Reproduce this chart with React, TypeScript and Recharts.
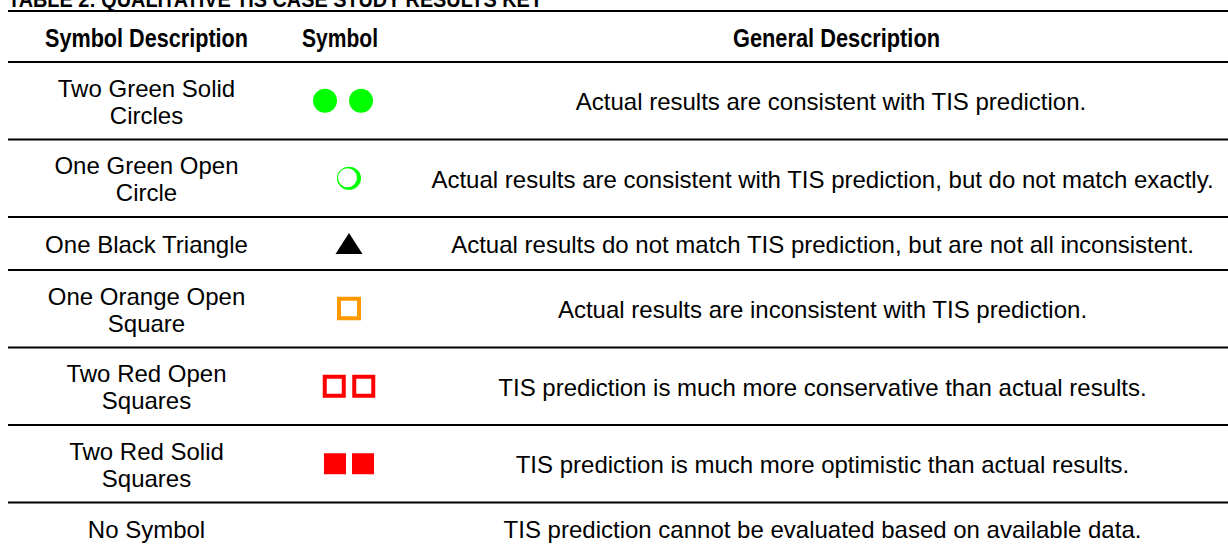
import React from "react";
import { ScatterChart, Scatter, XAxis, YAxis, ReferenceLine } from "recharts";

// ---- data ----
const TITLE = "TABLE 2: QUALITATIVE TIS CASE STUDY RESULTS KEY";
const HEADERS = ["Symbol Description", "Symbol", "General Description"];
const SYMBOL_DESCRIPTIONS: string[][] = [
  ["Two Green Solid", "Circles"],
  ["One Green Open", "Circle"],
  ["One Black Triangle"],
  ["One Orange Open", "Square"],
  ["Two Red Open", "Squares"],
  ["Two Red Solid", "Squares"],
  ["No Symbol"],
];
const SYMBOL_KINDS = ["solidCircle", "openCircle", "triangle", "openSquareOrange", "openSquareRed", "solidSquareRed", "none"];
const SYMBOL_COUNTS = [2, 1, 1, 1, 2, 2, 0];
const GENERAL_DESCRIPTIONS = [
  "Actual results are consistent with TIS prediction.",
  "Actual results are consistent with TIS prediction, but do not match exactly.",
  "Actual results do not match TIS prediction, but are not all inconsistent.",
  "Actual results are inconsistent with TIS prediction.",
  "TIS prediction is much more conservative than actual results.",
  "TIS prediction is much more optimistic than actual results.",
  "TIS prediction cannot be evaluated based on available data.",
];

// ---- layout (chart units = px) ----
const W = 1228;
const H = 549;
const TABLE_LEFT = 8;
const TOP_RULE = 11;
const HEADER_RULE = 62;
const ROW_PAD = 28.5;
const LINE_H = 24.5;
const COL_CENTERS = [146.5, 349, 822.5];
const DESC_ROW_SHIFT = [8.5, 0, 0, 0, 0, 0, 0];
const HEADER_CENTERS = [146.5, 340, 836.5];
const HEADER_WIDTHS = [203, 76, 207];
const SYMBOL_GAP: Record<string, number> = { solidCircle: 36, openSquareRed: 29.5, solidSquareRed: 28 };
const SYMBOL_SHIFT: Record<string, number> = { solidCircle: -6 };

const rowBounds: number[] = [HEADER_RULE];
SYMBOL_DESCRIPTIONS.forEach((d) => {
  rowBounds.push(rowBounds[rowBounds.length - 1] + ROW_PAD + LINE_H * d.length);
});
const rowCenters = SYMBOL_DESCRIPTIONS.map((_, i) => (rowBounds[i] + rowBounds[i + 1]) / 2);

const symbolPoints: { x: number; y: number; kind: string }[] = [];
SYMBOL_KINDS.forEach((kind, i) => {
  const n = SYMBOL_COUNTS[i];
  const gap = SYMBOL_GAP[kind] || 0;
  const shift = SYMBOL_SHIFT[kind] || 0;
  for (let j = 0; j < n; j++) {
    symbolPoints.push({ x: COL_CENTERS[1] + shift + (j - (n - 1) / 2) * gap, y: rowCenters[i], kind });
  }
});

type TextPt = { x: number; y: number; lines: string[]; kind: string; width?: number };
const textPoints: TextPt[] = [];
textPoints.push({ x: TABLE_LEFT, y: 7, lines: [TITLE], kind: "title", width: 535 });
HEADERS.forEach((h, i) => textPoints.push({ x: HEADER_CENTERS[i], y: 46.5, lines: [h], kind: "header", width: HEADER_WIDTHS[i] }));
SYMBOL_DESCRIPTIONS.forEach((d, i) => textPoints.push({ x: COL_CENTERS[0], y: rowCenters[i], lines: d, kind: "body" }));
GENERAL_DESCRIPTIONS.forEach((d, i) => textPoints.push({ x: COL_CENTERS[2] + DESC_ROW_SHIFT[i], y: rowCenters[i], lines: [d], kind: "body" }));

const BODY_FONT = "'Liberation Sans', Arial, sans-serif";
const NARROW_FONT = "'Liberation Sans Narrow', 'Arial Narrow', 'Liberation Sans', Arial, sans-serif";

const renderSymbol = (props: any) => {
  const { cx, cy, payload } = props;
  switch (payload.kind) {
    case "solidCircle":
      return <circle cx={cx} cy={cy} r={12} fill="#00ff00" />;
    case "openCircle":
      return (
        <g>
          <ellipse cx={cx} cy={cy} rx={12} ry={11.5} fill="#00ff00" />
          <ellipse cx={cx - 1.5} cy={cy - 0.5} rx={9.5} ry={9.5} fill="#ffffff" />
        </g>
      );
    case "triangle":
      return <polygon points={`${cx},${cy - 10.5} ${cx - 13.5},${cy + 10.5} ${cx + 13.5},${cy + 10.5}`} fill="#000" />;
    case "openSquareOrange":
      return <rect x={cx - 10} y={cy - 10} width={20} height={19.5} fill="none" stroke="#ff9900" strokeWidth={4} />;
    case "openSquareRed":
      return <rect x={cx - 9.5} y={cy - 9.5} width={19} height={19} fill="none" stroke="#ff0000" strokeWidth={4} />;
    case "solidSquareRed":
      return <rect x={cx - 11} y={cy - 10.5} width={22} height={21} fill="#ff0000" />;
    default:
      return <g />;
  }
};

const renderText = (props: any) => {
  const { cx, cy, payload } = props;
  if (payload.kind === "title") {
    return (
      <text x={cx} y={cy} fontFamily={NARROW_FONT} fontWeight="bold" fontSize={22} fill="#000"
        textLength={payload.width} lengthAdjust="spacingAndGlyphs">
        {payload.lines[0]}
      </text>
    );
  }
  if (payload.kind === "header") {
    return (
      <text x={cx - payload.width / 2} y={cy} fontFamily={NARROW_FONT} fontWeight="bold" fontSize={25} fill="#000"
        textLength={payload.width} lengthAdjust="spacingAndGlyphs">
        {payload.lines[0]}
      </text>
    );
  }
  const lines: string[] = payload.lines;
  const gap = 27;
  const first = cy + 9.3 - ((lines.length - 1) * gap) / 2;
  return (
    <text textAnchor="middle" fontFamily={BODY_FONT} fontSize={24} fill="#000">
      {lines.map((l, k) => (
        <tspan key={k} x={cx} y={first + k * gap}>
          {l}
        </tspan>
      ))}
    </text>
  );
};

const rules = [TOP_RULE, ...rowBounds.slice(0, rowBounds.length - 1)];

export default function App() {
  return (
    <div style={{ position: "absolute", left: 0, top: 0, background: "#fff" }}>
      <ScatterChart width={W} height={H} margin={{ top: 0, right: 0, bottom: 0, left: 0 }}>
        <XAxis type="number" dataKey="x" domain={[0, W]} hide />
        <YAxis type="number" dataKey="y" domain={[0, H]} reversed hide />
        {rules.map((y, i) => (
          <ReferenceLine key={i} segment={[{ x: TABLE_LEFT, y }, { x: W, y }]} stroke="#000" strokeWidth={2.2} ifOverflow="visible" />
        ))}
        <Scatter data={textPoints} shape={renderText} isAnimationActive={false} />
        <Scatter data={symbolPoints} shape={renderSymbol} isAnimationActive={false} />
      </ScatterChart>
    </div>
  );
}
